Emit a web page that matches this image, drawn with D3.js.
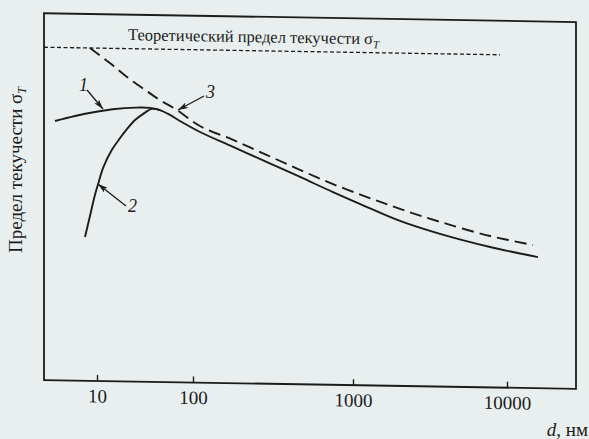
<!DOCTYPE html>
<html>
<head>
<meta charset="utf-8">
<script src="https://cdn.jsdelivr.net/npm/d3@7"></script>
<style>
  body { margin: 0; background: #e9efef; }
  svg { display: block; }
</style>
</head>
<body>
<svg id="chart" width="589" height="439"></svg>
<script>
// grain size d (nm) and relative yield stress
let xTicks = [10, 100, 1000, 10000];

// 1 - Hall-Petch curve with a maximum
let curve1D = [3.65, 5.91, 9.53, 15.4, 24.9, 35.6, 45.3, 57.5, 73.2, 110.6, 178, 290, 467, 750, 1233, 2018, 3673, 7762, 15890];
let curve1S = [0.779, 0.795, 0.808, 0.818, 0.823, 0.823, 0.817, 0.803, 0.785, 0.753, 0.710, 0.666, 0.623, 0.579, 0.536, 0.496, 0.459, 0.422, 0.394];

// 2 - drop at small grains
let curve2D = [7.5, 8.45, 9.53, 10.5, 11.55, 14.3, 17.4, 20.5, 24.9, 30.1, 37.4, 45.3];
let curve2S = [0.432, 0.495, 0.559, 0.601, 0.640, 0.695, 0.731, 0.758, 0.786, 0.804, 0.820, 0.817];

// 3 - extrapolated Hall-Petch (dashed)
let curve3D = [8.45, 13.6, 20.5, 31.6, 45.3, 68.1, 110.6, 178, 290, 467, 750, 1233, 2018, 3673, 7762, 14760];
let curve3S = [1.0, 0.956, 0.915, 0.877, 0.847, 0.818, 0.771, 0.731, 0.687, 0.644, 0.603, 0.566, 0.532, 0.495, 0.455, 0.430];

let sigmaTheory = 1; // theoretical limit
let theoryEnd = 9000; // where the dotted line stops

let ink = "#1c1c1c";
let serif = "'Liberation Serif', 'DejaVu Serif', serif";

let svg = d3.select("#chart");

let fLeft = 44, fRight = 576, fTop = 12.5, fBottom = 379.3;

// scan is a bit skewed
let g = svg.append("g").attr("transform", "skewY(0.95)");

// the log axis of the drawing is not evenly spaced, so piecewise
let xScale = d3.scaleLog()
    .domain(xTicks)
    .range([97, 193, 353, 507]);

let yScale = d3.scaleLinear()
    .domain([0, 1])
    .range([fBottom, 46.5]);

// frame
g.append("rect")
    .attr("x", fLeft)
    .attr("y", fTop)
    .attr("width", fRight - fLeft)
    .attr("height", fBottom - fTop)
    .attr("fill", "none")
    .attr("stroke", ink)
    .attr("stroke-width", 1.8);

let xAxis = d3.axisBottom(xScale)
    .tickValues(xTicks)
    .tickFormat(d3.format("d"))
    .tickSize(-6)
    .tickSizeOuter(0)
    .tickPadding(8);

let ax = g.append("g")
    .attr("transform", "translate(0," + fBottom + ")")
    .call(xAxis);
ax.select(".domain").remove();
ax.selectAll(".tick line").attr("stroke", ink).attr("stroke-width", 1.4);
ax.selectAll(".tick text")
    .attr("fill", ink)
    .style("font-family", serif)
    .style("font-size", "19px");

// theoretical yield stress
g.append("line")
    .attr("x1", fLeft)
    .attr("x2", xScale(theoryEnd))
    .attr("y1", yScale(sigmaTheory))
    .attr("y2", yScale(sigmaTheory))
    .attr("stroke", ink)
    .attr("stroke-width", 1.3)
    .attr("stroke-dasharray", "4,2.5");

let title = g.append("text")
    .attr("x", 128)
    .attr("y", 38)
    .attr("fill", ink)
    .style("font-family", serif)
    .style("font-size", "16.5px")
    .text("Теоретический предел текучести σ");
title.append("tspan")
    .attr("dy", 4)
    .style("font-size", "11px")
    .style("font-style", "italic")
    .text("T");

let line = d3.line()
    .x(d => xScale(d[0]))
    .y(d => yScale(d[1]))
    .curve(d3.curveCatmullRom.alpha(0.5));

function pairs(xs, ys) {
    return xs.map((v, i) => [v, ys[i]]);
}

g.append("path")
    .datum(pairs(curve1D, curve1S))
    .attr("d", line)
    .attr("fill", "none")
    .attr("stroke", ink)
    .attr("stroke-width", 1.9);

g.append("path")
    .datum(pairs(curve2D, curve2S))
    .attr("d", line)
    .attr("fill", "none")
    .attr("stroke", ink)
    .attr("stroke-width", 1.9);

g.append("path")
    .datum(pairs(curve3D, curve3S))
    .attr("d", line)
    .attr("fill", "none")
    .attr("stroke", ink)
    .attr("stroke-width", 1.9)
    .attr("stroke-dasharray", "12,6");

// y label
let ylab = svg.append("text")
    .attr("transform", "translate(22,253) rotate(-90)")
    .attr("fill", ink)
    .style("font-family", serif)
    .style("font-size", "19px")
    .text("Предел текучести σ");
ylab.append("tspan")
    .attr("dy", 4)
    .style("font-size", "12px")
    .style("font-style", "italic")
    .text("T");

// x label
let xlab = svg.append("text")
    .attr("x", 588)
    .attr("y", 436)
    .attr("text-anchor", "end")
    .attr("fill", ink)
    .style("font-family", serif)
    .style("font-size", "19px");
xlab.append("tspan").style("font-style", "italic").text("d");
xlab.append("tspan").text(", нм");

// curve numbers with arrows
svg.append("defs").append("marker")
    .attr("id", "arr")
    .attr("viewBox", "0 0 10 6")
    .attr("refX", 10)
    .attr("refY", 3)
    .attr("markerWidth", 10)
    .attr("markerHeight", 6)
    .attr("markerUnits", "userSpaceOnUse")
    .attr("orient", "auto")
    .append("path")
    .attr("d", "M0,0 L10,3 L0,6 L2.5,3 z")
    .attr("fill", ink);

let notes = [
    { t: "1", tx: 79, ty: 91, x1: 87, y1: 90, x2: 103, y2: 109 },
    { t: "2", tx: 128, ty: 212, x1: 126, y1: 206, x2: 98, y2: 184 },
    { t: "3", tx: 206, ty: 98, x1: 204, y1: 96, x2: 178, y2: 110 }
];

notes.forEach(n => {
    svg.append("line")
        .attr("x1", n.x1).attr("y1", n.y1)
        .attr("x2", n.x2).attr("y2", n.y2)
        .attr("stroke", ink)
        .attr("stroke-width", 1.3)
        .attr("marker-end", "url(#arr)");
    svg.append("text")
        .attr("x", n.tx)
        .attr("y", n.ty)
        .attr("fill", ink)
        .style("font-family", serif)
        .style("font-style", "italic")
        .style("font-size", "18px")
        .text(n.t);
});
</script>
</body>
</html>
